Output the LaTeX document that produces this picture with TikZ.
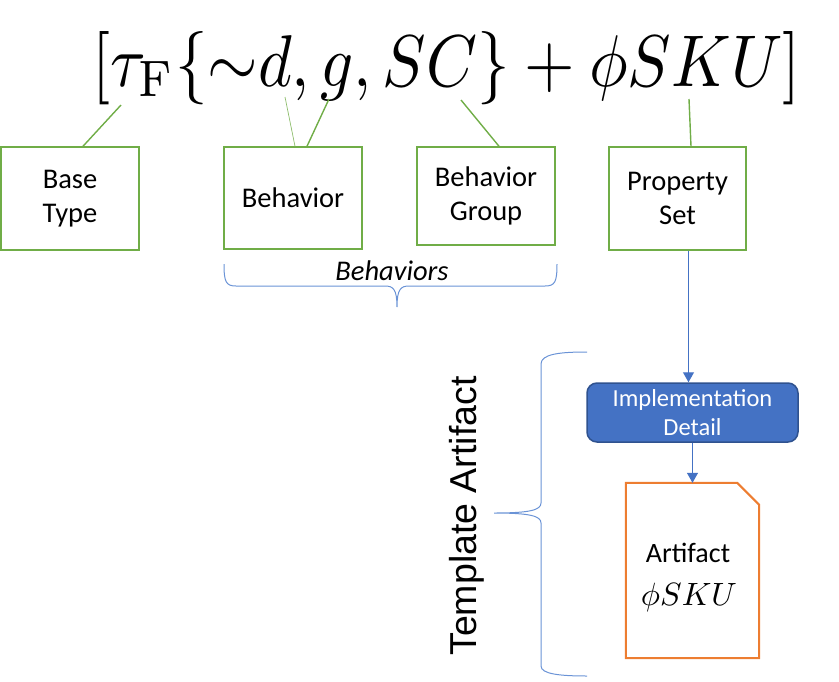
\documentclass[tikz,border=0pt]{standalone}
\usepackage{fontspec}
\usetikzlibrary{arrows.meta}
\newfontfamily\carlitofont{Carlito}
\newfontfamily\arialfont{Liberation Sans}
\definecolor{gbox}{HTML}{70AD47}
\definecolor{bline}{HTML}{4472C4}
\definecolor{bbrace}{HTML}{6A93D6}
\definecolor{bdark}{HTML}{2F528F}
\definecolor{orng}{HTML}{ED7D31}
\tikzset{
  gbx/.style={draw=gbox, line width=1.5pt, inner sep=0pt, align=center,
    font=\carlitofont\fontsize{28.5}{34}\selectfont},
  gln/.style={draw=gbox, line width=1.4pt},
  gthin/.style={draw=gbox!80, line width=0.7pt},
  brc/.style={draw=bbrace, line width=1pt},
  arr/.style={draw=bline, line width=1.2pt, -{Triangle[width=11pt,length=10pt]}},
}
\begin{document}
\begin{tikzpicture}[x=1pt,y=-1pt]
\useasboundingbox (0,0) rectangle (839,681);
% formula
\node[anchor=base west, inner sep=0pt] (f) at (92,86)
  {\resizebox{708pt}{!}{\scalebox{1}[1.13]{$[\tau_{\mathrm{F}}\{{\sim} d, g, SC\} + \phi SKU]$}}};
\coordinate (fbt) at (121,105);
\coordinate (fb1) at (285,97);
\coordinate (fb2) at (329,99);
\coordinate (fbg) at (461,100);
\coordinate (fps) at (689,99);
% boxes
\node[gbx, minimum width=138pt, minimum height=103pt] (bt) at (70,198.5) {Base\\Type};
\node[gbx, minimum width=138pt, minimum height=102pt] (bh) at (293,198) {Behavior};
\node[gbx, minimum width=138pt, minimum height=98pt] (bg) at (486,196) {Behavior\\Group};
\node[gbx, minimum width=137pt, minimum height=103pt] (ps) at (677.5,198.5) {Property\\Set};
% connectors from formula
\draw[gln] (fbt) -- ([xshift=13pt]bt.north);
\draw[gthin] (fb1) -- ([xshift=2pt]bh.north);
\draw[gln] (fb2) -- ([xshift=14pt]bh.north);
\draw[gln] (fbg) -- ([xshift=13pt]bg.north);
\draw[gln] (fps) -- ([xshift=13.5pt]ps.north);
% behaviors brace
\draw[brc] (224,264) .. controls (224,282) and (226,286) .. (236,286) -- (385,286)
  .. controls (393,286) and (397,289) .. (397,307)
  .. controls (397,289) and (401,286) .. (409,286) -- (545,286)
  .. controls (555,286) and (557,282) .. (557,264);
\node[font=\carlitofont\itshape\fontsize{28.5}{34}\selectfont] (bl) at (392,271) {Behaviors};
% implementation detail
\node[draw=bdark, fill=bline, line width=1.5pt, rounded corners=10pt,
  minimum width=211pt, minimum height=59pt, inner sep=0pt, align=center,
  text=white, font=\carlitofont\fontsize{24.5}{29.5}\selectfont] (imp) at (692.5,412.5)
  {Implementation\\Detail};
\draw[arr] ([xshift=11pt]ps.south) -- ([xshift=11pt]ps.south |- imp.north);
% artifact document
\node[minimum width=133pt, minimum height=175pt, inner sep=0pt] (doc) at (692.5,570.5) {};
\draw[draw=orng, line width=2pt] (doc.south west) -- (doc.north west)
  -- ([xshift=-22pt]doc.north east) -- ([yshift=-22pt]doc.north east)
  -- (doc.south east) -- cycle;
\node[anchor=base, inner sep=0pt, font=\carlitofont\fontsize{28}{30}\selectfont] (atext) at (688,562) {Artifact};
\node[anchor=base, inner sep=0pt] (asku) at (689,605)
  {\resizebox{96pt}{!}{$\phi SKU$}};
\draw[arr] (imp.south) -- (imp.south |- doc.north);
% template artifact brace
\draw[brc] (587,352) .. controls (560,352) and (541,354) .. (541,364) -- (541,503)
  .. controls (541,510) and (530,513) .. (494,513)
  .. controls (530,513) and (541,516) .. (541,523) -- (541,666)
  .. controls (541,674) and (560,676) .. (587,676);
\node[rotate=90, font=\arialfont\fontsize{37.5}{40}\selectfont, inner sep=0pt] (ta) at (467,516) {Template Artifact};
\end{tikzpicture}
\end{document}
